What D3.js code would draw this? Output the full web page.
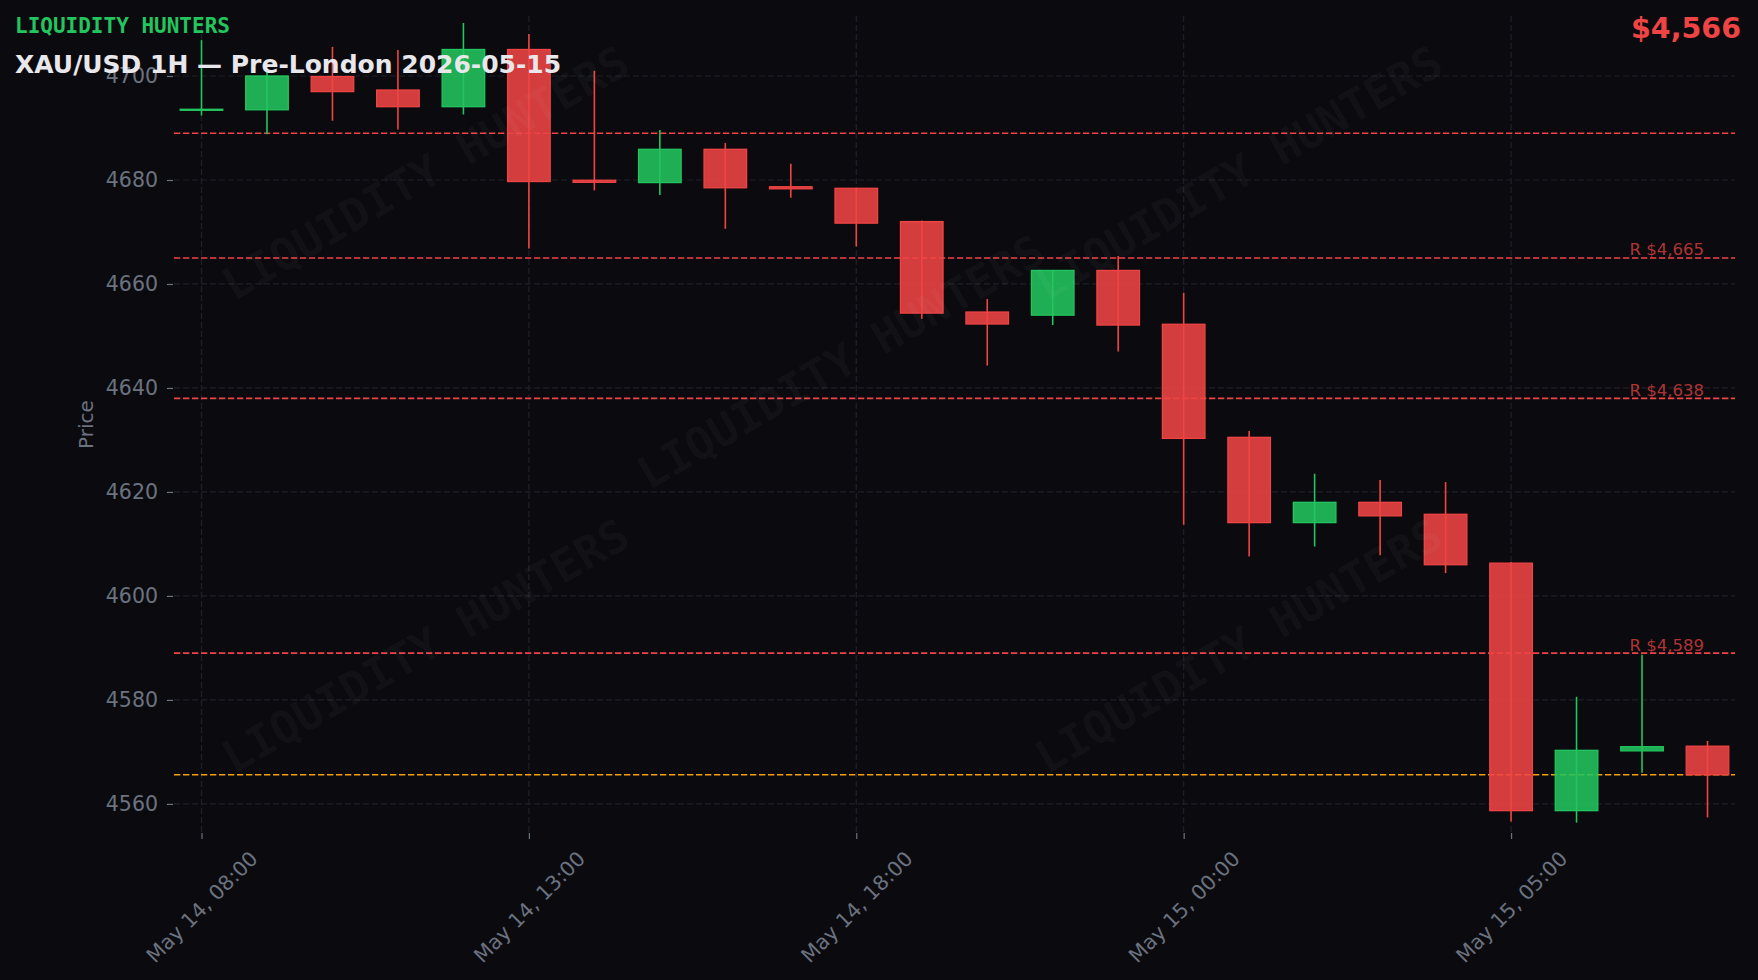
<!DOCTYPE html>
<html>
<head>
<meta charset="utf-8">
<script src="https://cdn.jsdelivr.net/npm/d3@7"></script>
<style>
  html, body { margin: 0; padding: 0; background: #0b0b0f; }
  svg { display: block; }
  text { font-family: "DejaVu Sans", sans-serif; }
</style>
</head>
<body>
<svg id="chart" width="1758" height="980"></svg>
<script>
// ---------------- DATA ----------------
const times = [
  "May 14, 08:00", "May 14, 09:00", "May 14, 10:00", "May 14, 11:00",
  "May 14, 12:00", "May 14, 13:00", "May 14, 14:00", "May 14, 15:00",
  "May 14, 16:00", "May 14, 17:00", "May 14, 18:00", "May 14, 19:00",
  "May 14, 20:00", "May 14, 22:00", "May 14, 23:00", "May 15, 00:00",
  "May 15, 01:00", "May 15, 02:00", "May 15, 03:00", "May 15, 04:00",
  "May 15, 05:00", "May 15, 06:00", "May 15, 07:00", "May 15, 08:00"
];
const opens  = [4693.4, 4693.5, 4699.9, 4697.3, 4694.1, 4705.1, 4679.95, 4679.5,
                4685.9, 4678.7, 4678.4, 4672.0, 4654.6, 4654.0, 4662.6, 4652.25,
                4630.5, 4614.1, 4618.0, 4615.7, 4606.3, 4558.7, 4570.2, 4571.1];
const highs  = [4706.9, 4700.8, 4705.6, 4705.0, 4710.2, 4708.1, 4701.0, 4689.6,
                4687.1, 4683.1, 4678.5, 4672.2, 4657.1, 4662.7, 4665.4, 4658.3,
                4631.7, 4623.5, 4622.3, 4621.9, 4606.5, 4580.6, 4588.7, 4572.1];
const lows   = [4692.4, 4688.8, 4691.4, 4689.7, 4692.6, 4666.8, 4678.0, 4677.1,
                4670.6, 4676.6, 4667.2, 4653.3, 4644.3, 4652.1, 4647.0, 4613.7,
                4607.6, 4609.5, 4607.8, 4604.4, 4556.6, 4556.4, 4566.0, 4557.4];
const closes = [4693.6, 4700.0, 4697.0, 4694.1, 4705.1, 4679.7, 4679.55, 4685.9,
                4678.5, 4678.3, 4671.7, 4654.4, 4652.3, 4662.6, 4652.1, 4630.3,
                4614.1, 4618.0, 4615.4, 4606.0, 4558.7, 4570.3, 4571.0, 4565.6];

const resistanceLevels = [4689, 4665, 4638, 4589];
const resistanceLabels = ["", "R $4,665", "R $4,638", "R $4,589"];
const currentPrice = 4565.6;
const currentPriceLabel = "$4,566";

const yTickValues = [4560, 4580, 4600, 4620, 4640, 4660, 4680, 4700];
const xTickIndices = [0, 5, 10, 15, 20];

const brandText = "LIQUIDITY HUNTERS";
const titleText = "XAU/USD 1H \u2014 Pre-London 2026-05-15";
const yAxisTitle = "Price";

// ---------------- LAYOUT ----------------
const W = 1758, H = 980;
const plot = { left: 174, right: 1735, top: 16, bottom: 833 };
const COLORS = {
  bg: "#0b0b0f", up: "#22c55e", down: "#ef4444", grid: "#1f2029",
  tick: "#6b7280", orange: "#f59e0b", title: "#e8e8ec"
};

const svg = d3.select("#chart");
svg.append("rect").attr("width", W).attr("height", H).attr("fill", COLORS.bg);

const candles = times.map((t, i) => ({
  i, t, o: opens[i], h: highs[i], l: lows[i], c: closes[i]
}));

const x = d3.scaleLinear().domain([-0.42, candles.length - 1 + 0.42]).range([plot.left, plot.right]);
const y = d3.scaleLinear().domain([4554.4, 4711.54]).range([plot.bottom, plot.top]);

// ---------------- GRID ----------------
const grid = svg.append("g");
grid.selectAll("line.h").data(yTickValues).join("line")
  .attr("x1", plot.left).attr("x2", plot.right)
  .attr("y1", d => y(d)).attr("y2", d => y(d))
  .attr("stroke", COLORS.grid).attr("stroke-width", 1.2).attr("stroke-dasharray", "6,3");
grid.selectAll("line.v").data(xTickIndices).join("line")
  .attr("x1", d => x(d)).attr("x2", d => x(d))
  .attr("y1", plot.top).attr("y2", plot.bottom)
  .attr("stroke", COLORS.grid).attr("stroke-width", 1.2).attr("stroke-dasharray", "6,3");

// ---------------- AXES ----------------
const yAxis = svg.append("g").attr("transform", `translate(${plot.left - 1},0)`)
  .call(d3.axisLeft(y).tickValues(yTickValues).tickSize(6).tickPadding(9).tickFormat(d3.format("d")));
yAxis.select(".domain").remove();
yAxis.selectAll(".tick line").attr("stroke", COLORS.tick).attr("stroke-width", 1.2);
yAxis.selectAll(".tick text").attr("fill", COLORS.tick)
  .style("font-family", "DejaVu Sans").style("font-size", "20.5px");

const xAxis = svg.append("g").attr("transform", `translate(0,${plot.bottom})`)
  .call(d3.axisBottom(x).tickValues(xTickIndices).tickSize(6).tickFormat(d => times[d]));
xAxis.select(".domain").remove();
xAxis.selectAll(".tick line").attr("stroke", COLORS.tick).attr("stroke-width", 1.2);
xAxis.selectAll(".tick text")
  .attr("fill", COLORS.tick)
  .style("font-family", "DejaVu Sans").style("font-size", "20.5px")
  .attr("text-anchor", "middle").attr("y", 0).attr("dy", "0.35em")
  .each(function () {
    const L = this.getComputedTextLength();
    const hgt = 20.5 * 0.95;
    const half = (L + hgt) * Math.SQRT1_2 / 2;
    d3.select(this).attr("transform", `translate(0,${15 + half}) rotate(-45)`);
  });

svg.append("text")
  .attr("transform", `translate(93,${(plot.top + plot.bottom) / 2}) rotate(-90)`)
  .attr("text-anchor", "middle")
  .attr("fill", COLORS.tick).style("font-size", "20px")
  .text(yAxisTitle);

// ---------------- LEVEL LINES ----------------
const levels = svg.append("g");
levels.selectAll("line").data(resistanceLevels).join("line")
  .attr("x1", plot.left).attr("x2", plot.right)
  .attr("y1", d => y(d)).attr("y2", d => y(d))
  .attr("stroke", COLORS.down).attr("stroke-width", 1.6).attr("stroke-dasharray", "6.3,2.7");
levels.selectAll("text").data(resistanceLevels).join("text")
  .attr("x", 1704).attr("y", d => y(d) - 2.5)
  .attr("text-anchor", "end")
  .attr("fill", COLORS.down).attr("fill-opacity", 0.72)
  .style("font-size", "16.5px")
  .text((d, i) => resistanceLabels[i]);

svg.append("line")
  .attr("x1", plot.left).attr("x2", plot.right)
  .attr("y1", y(currentPrice)).attr("y2", y(currentPrice))
  .attr("stroke", COLORS.orange).attr("stroke-width", 1.6).attr("stroke-dasharray", "6.3,2.7");

// ---------------- CANDLES ----------------
const step = x(1) - x(0);
const bodyW = step * 0.65;
const cg = svg.append("g");
const cand = cg.selectAll("g").data(candles).join("g");
cand.append("line")
  .attr("x1", d => x(d.i)).attr("x2", d => x(d.i))
  .attr("y1", d => y(d.h)).attr("y2", d => y(d.l))
  .attr("stroke", d => d.c >= d.o ? COLORS.up : COLORS.down)
  .attr("stroke-width", 1.6);
cand.append("rect")
  .attr("x", d => x(d.i) - bodyW / 2)
  .attr("width", bodyW)
  .attr("y", d => y(Math.max(d.o, d.c)))
  .attr("height", d => Math.max(0.6, Math.abs(y(d.o) - y(d.c))))
  .attr("fill", d => d.c >= d.o ? COLORS.up : COLORS.down)
  .attr("fill-opacity", 0.88)
  .attr("stroke", d => d.c >= d.o ? COLORS.up : COLORS.down)
  .attr("stroke-width", 1.3);

// ---------------- WATERMARKS ----------------
const wmPositions = [[0.161, 0.192], [0.682, 0.192], [0.427, 0.4235], [0.161, 0.771], [0.682, 0.771]];
const pw = plot.right - plot.left, ph = plot.bottom - plot.top;
svg.append("g").selectAll("text").data(wmPositions).join("text")
  .attr("transform", d => `translate(${plot.left + d[0] * pw},${plot.top + d[1] * ph}) rotate(-30)`)
  .attr("text-anchor", "middle").attr("dy", "0.35em")
  .style("font-family", "DejaVu Sans Mono").style("font-weight", "bold").style("font-size", "45px")
  .attr("fill", "#ffffff").attr("fill-opacity", 0.035)
  .text(brandText);

// ---------------- TITLES ----------------
svg.append("text").attr("x", 15).attr("y", 33)
  .style("font-family", "DejaVu Sans Mono").style("font-weight", "bold").style("font-size", "21px")
  .attr("fill", COLORS.up).text(brandText);
svg.append("text").attr("x", 15).attr("y", 73)
  .style("font-weight", "bold").style("font-size", "25px")
  .attr("fill", COLORS.title).text(titleText);
svg.append("text").attr("x", 1741).attr("y", 38).attr("text-anchor", "end")
  .style("font-weight", "bold").style("font-size", "28.5px")
  .attr("fill", COLORS.down).text(currentPriceLabel);
</script>
</body>
</html>
